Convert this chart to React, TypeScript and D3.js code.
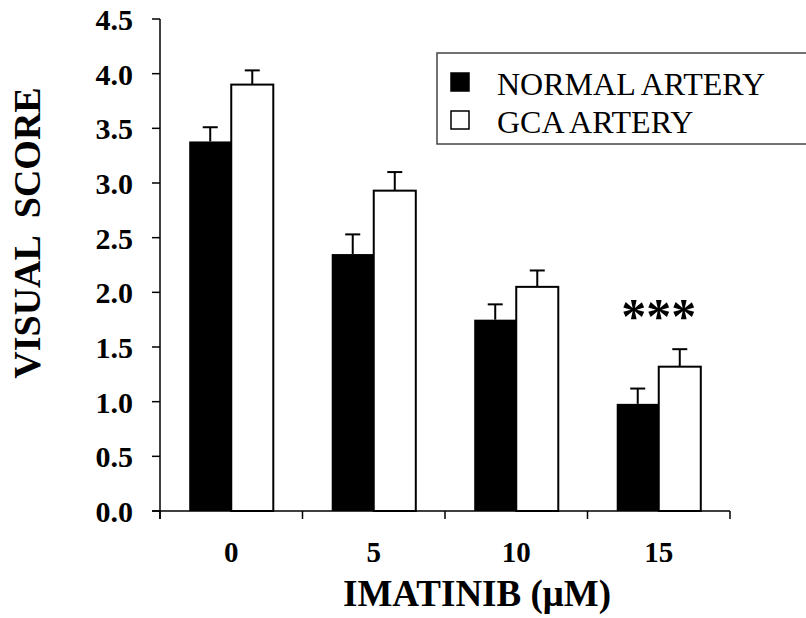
import React from "react";
import * as d3 from "d3";

// imatinib dose groups and the two artery series
const doses = ["0", "5", "10", "15"];
const series = ["NORMAL ARTERY", "GCA ARTERY"];
const normalMean = [3.38, 2.35, 1.75, 0.98];
const normalErr = [0.13, 0.18, 0.14, 0.14];
const gcaMean = [3.9, 2.93, 2.05, 1.32];
const gcaErr = [0.13, 0.17, 0.15, 0.16];
const yTicks = [0, 0.5, 1, 1.5, 2, 2.5, 3, 3.5, 4, 4.5];
const starredDose = "15";

const W = 806;
const H = 618;
const serif = "'Liberation Serif', 'Times New Roman', serif";

export default function App() {
  const left = 160, right = 730, top = 19, bottom = 511;

  const x0 = d3.scaleBand().domain(doses).range([left, right]).paddingInner(0.41).paddingOuter(0.205);
  const x1 = d3.scaleBand().domain(series).range([0, x0.bandwidth()]);
  const y = d3.scaleLinear().domain([0, 4.5]).range([bottom, top]);

  const rows = doses.map((d, i) => ({
    dose: d,
    bars: [
      { s: series[0], v: normalMean[i], e: normalErr[i], fill: "#000" },
      { s: series[1], v: gcaMean[i], e: gcaErr[i], fill: "#fff" },
    ],
  }));

  // category boundaries: halfway between groups
  const bounds = d3.range(doses.length + 1).map((i) => left + i * x0.step());

  return (
    <svg width={W} height={H} style={{ position: "absolute", left: 0, top: 0, background: "#fff" }} fontFamily={serif}>
      {/* bars */}
      {rows.map((r) => (
        <g key={r.dose} transform={`translate(${x0(r.dose)},0)`}>
          {r.bars.map((b) => {
            const bx = x1(b.s)!;
            const bw = x1.bandwidth();
            const cx = bx + bw / 2;
            return (
              <g key={b.s}>
                <line x1={cx} x2={cx} y1={y(b.v)} y2={y(b.v + b.e)} stroke="#000" strokeWidth={2} />
                <line x1={cx - 7.5} x2={cx + 7.5} y1={y(b.v + b.e)} y2={y(b.v + b.e)} stroke="#000" strokeWidth={2} />
                <rect x={bx} y={y(b.v)} width={bw} height={y(0) - y(b.v)} fill={b.fill} stroke="#000" strokeWidth={b.fill === "#000" ? 0 : 2} />
              </g>
            );
          })}
        </g>
      ))}

      {/* significance marker */}
      <text x={x0(starredDose)! + x0.bandwidth() / 2} y={333} textAnchor="middle" fontSize={50} fontWeight="bold" letterSpacing={0}>
        ***
      </text>

      {/* y axis */}
      <line x1={left} x2={left} y1={top} y2={bottom + 8} stroke="#000" strokeWidth={1.5} />
      {yTicks.map((t) => (
        <g key={t}>
          <line x1={left - 8} x2={left} y1={y(t)} y2={y(t)} stroke="#000" strokeWidth={1.5} />
          <text x={133} y={y(t) + 11} textAnchor="end" fontSize={30} fontWeight="bold">
            {t.toFixed(1)}
          </text>
        </g>
      ))}

      {/* x axis */}
      <line x1={left - 8} x2={right} y1={bottom} y2={bottom} stroke="#000" strokeWidth={1.5} />
      {bounds.map((b, i) => (
        <line key={i} x1={b} x2={b} y1={bottom} y2={bottom + 8} stroke="#000" strokeWidth={1.5} />
      ))}
      {doses.map((d) => (
        <text key={d} x={x0(d)! + x0.bandwidth() / 2} y={562} textAnchor="middle" fontSize={29} fontWeight="bold">
          {d}
        </text>
      ))}

      {/* axis titles */}
      <text x={477} y={606} textAnchor="middle" fontSize={37} fontWeight="bold">
        IMATINIB (μM)
      </text>
      <text
        transform={`translate(40,233) rotate(-90)`}
        textAnchor="middle"
        fontSize={38}
        fontWeight="bold"
        style={{ whiteSpace: "pre" }}
      >
        {"VISUAL  SCORE"}
      </text>

      {/* legend */}
      <rect x={437} y={53} width={400} height={91} fill="#fff" stroke="#444" strokeWidth={1.5} />
      {series.map((s, i) => (
        <g key={s} transform={`translate(0,${i * 38})`}>
          <rect x={451} y={73} width={18} height={18} fill={i === 0 ? "#000" : "#fff"} stroke="#000" strokeWidth={1.5} />
          <text x={497} y={95} fontSize={32}>
            {s}
          </text>
        </g>
      ))}
    </svg>
  );
}
